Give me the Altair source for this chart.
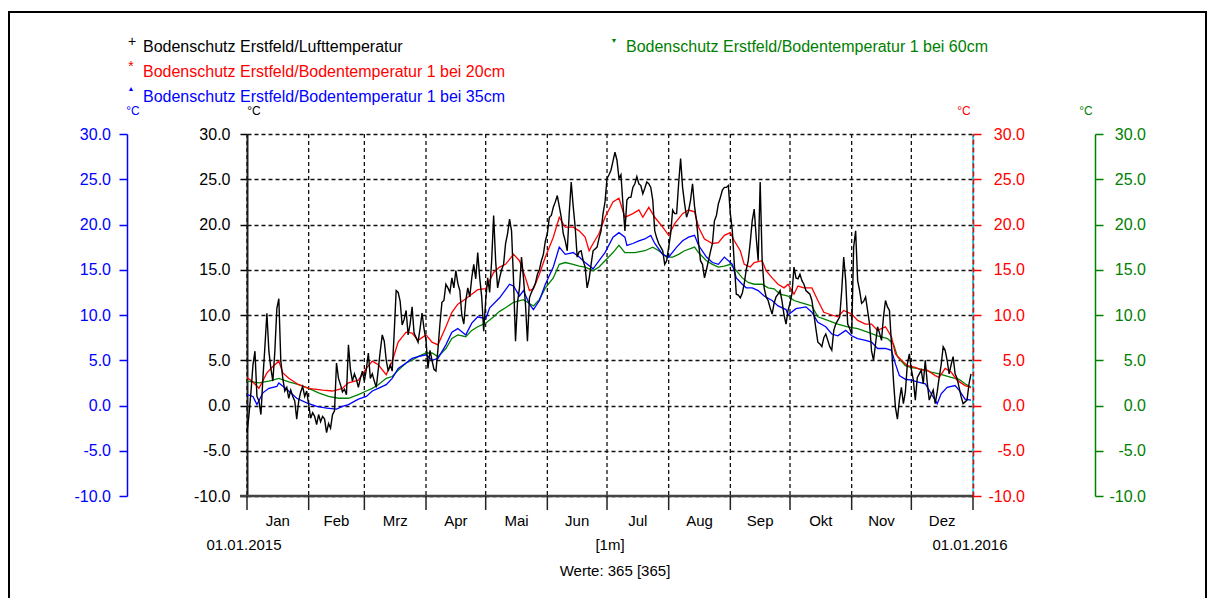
import altair as alt
import pandas as pd

# ---------------- data ----------------
air_temp = [
    -3.0, -1.0, 1.5, 4.5, 6.0, 1.0, 0.5, -1.0, 3.0, 6.5,
    10.2, 6.0, 4.1, 2.7, 6.0, 10.7, 11.8, 4.9, 3.0, 1.6,
    2.0, 0.8, 1.7, 1.0, 0.5, -1.5, 0.5, 1.5, 2.1, 1.0,
    1.6, 0.1, -1.4, -0.8, -1.2, -2.1, -1.0, -1.8, -1.2, -1.5,
    -3.0, -2.0, -2.5, -1.0, -0.6, 4.7, 3.0, 2.3, 1.5, 1.8,
    1.2, 6.7, 4.0, 2.7, 3.5, 2.9, 2.0, 3.0, 3.8, 2.7,
    4.0, 5.8, 3.0, 3.5, 2.7, 2.0, 4.0, 6.0, 7.8, 7.1,
    5.0, 3.8, 4.5, 3.8, 8.0, 12.7, 12.5, 11.5, 8.9, 9.5,
    10.5, 7.8, 9.0, 10.9, 8.0, 7.5, 7.0, 8.5, 10.2, 8.5,
    7.2, 4.1, 6.1, 5.0, 4.0, 3.8, 6.2, 9.0, 11.4, 11.6,
    13.4, 13.0, 12.5, 14.1, 13.0, 14.9, 13.5, 12.7, 10.0, 9.0,
    11.6, 13.0, 12.0, 14.1, 15.6, 14.0, 16.9, 14.1, 12.0, 8.2,
    11.6, 14.1, 12.5, 16.0, 21.0, 16.0, 13.0, 14.1, 15.0, 15.6,
    17.9, 19.0, 20.6, 19.3, 13.8, 7.1, 11.4, 13.0, 16.4, 14.1,
    11.2, 7.1, 11.9, 12.5, 13.0, 13.5, 14.5, 15.0, 16.0, 16.7,
    18.2, 19.0, 20.8, 21.0, 21.9, 22.5, 23.2, 22.0, 20.8, 19.0,
    18.2, 17.1, 21.2, 24.7, 22.0, 19.7, 16.4, 17.0, 17.1, 16.0,
    15.3, 13.0, 14.0, 15.6, 17.1, 17.3, 17.5, 18.5, 19.3, 21.2,
    22.5, 25.1, 25.5, 26.0, 27.0, 28.0, 27.1, 25.1, 25.5, 22.3,
    19.3, 22.7, 23.0, 23.0, 24.1, 24.5, 25.3, 24.5, 24.3, 23.4,
    24.0, 24.7, 24.5, 24.1, 22.7, 19.3, 18.5, 17.9, 17.5, 17.1,
    15.6, 16.0, 17.5, 19.0, 21.6, 21.2, 21.2, 24.5, 27.3, 24.1,
    22.3, 20.8, 21.5, 22.7, 24.5, 22.0, 20.4, 18.0, 16.0, 15.6,
    14.1, 15.0, 16.0, 17.0, 17.9, 20.4, 21.0, 22.3, 23.0, 23.8,
    24.1, 24.1, 24.3, 21.2, 19.3, 15.6, 12.3, 12.2, 11.9, 12.4,
    13.5, 15.0, 16.0, 18.0, 20.4, 21.7, 18.6, 16.0, 24.7, 16.0,
    13.0, 12.0, 11.6, 10.8, 10.1, 11.3, 12.0, 12.3, 12.7, 11.5,
    10.0, 9.0, 10.5, 11.3, 12.4, 15.3, 14.1, 14.0, 14.5, 13.8,
    13.4, 12.7, 12.5, 12.3, 11.6, 10.1, 8.5, 7.0, 6.8, 6.5,
    7.5, 7.9, 7.2, 6.5, 6.1, 8.3, 9.0, 9.4, 9.8, 12.7,
    16.4, 13.8, 9.0, 8.5, 7.9, 17.5, 19.3, 13.8, 12.7, 11.3,
    11.5, 12.0, 10.5, 9.0, 6.0, 5.0, 6.8, 8.7, 8.0, 7.2,
    9.8, 11.6, 10.9, 10.5, 6.8, 2.8, -0.2, -1.5, 0.6, 2.0,
    0.2, 1.5, 4.6, 5.7, 4.0, 2.8, 0.6, 3.1, 3.5, 3.9,
    2.4, 5.0, 2.5, 0.6, 1.2, 1.7, 0.2, 1.5, 3.1, 4.5,
    6.5, 6.1, 5.0, 3.5, 4.5, 5.4, 3.5, 3.0, 2.0, 1.0,
    0.2, 0.4, 0.6, 2.4, 3.5,
]

red_days = [0, 3, 6, 10, 13, 16, 18, 21, 26, 31, 38, 43, 48, 51, 56, 60, 63, 66, 70, 73,
            76, 80, 83, 86, 90, 93, 96, 100, 103, 106, 110, 113, 116, 120, 124, 127, 130, 134, 137, 140,
            142, 144, 147, 150, 154, 157, 160, 164, 167, 170, 172, 174, 177, 180, 184, 187, 190, 194, 197, 199,
            202, 205, 209, 212, 215, 219, 222, 225, 227, 230, 234, 237, 240, 243, 245, 248, 250, 253, 255, 259,
            261, 264, 267, 270, 272, 275, 277, 280, 284, 287, 290, 294, 297, 300, 304, 307, 311, 314, 317, 321,
            324, 326, 329, 332, 336, 339, 342, 346, 348, 351, 354, 357, 361, 364]
red_temp = [3.1, 2.6, 1.9, 3.6, 4.3, 4.9, 3.6, 3.0, 2.3, 1.9, 1.7, 1.6, 1.9, 2.5, 2.8, 4.1, 4.9, 4.5, 3.4, 4.9,
            7.0, 8.1, 8.0, 7.2, 7.8, 7.0, 6.7, 8.7, 10.3, 11.2, 11.8, 12.3, 12.8, 12.9, 14.7, 15.3, 15.6, 16.7, 16.0, 14.1,
            12.7, 12.9, 14.5, 16.4, 18.6, 20.8, 19.7, 19.7, 19.3, 18.6, 17.1, 17.9, 19.0, 20.8, 22.5, 22.9, 20.8, 21.2, 21.6, 20.8,
            21.9, 20.8, 19.7, 18.8, 20.1, 21.2, 21.6, 21.4, 19.7, 18.4, 17.9, 18.0, 18.8, 19.1, 18.2, 17.1, 15.6, 15.3, 15.8, 16.0,
            14.9, 14.1, 13.4, 13.0, 13.4, 12.3, 13.2, 13.0, 13.0, 11.6, 10.3, 10.0, 9.8, 10.5, 10.1, 9.4, 9.0, 9.0, 8.3, 8.7,
            7.6, 5.7, 5.0, 4.4, 4.2, 3.9, 3.9, 3.3, 3.1, 4.1, 3.7, 2.8, 2.2, 2.0]

blue_days = [0, 3, 5, 8, 11, 15, 16, 20, 25, 30, 35, 40, 45, 48, 51, 56, 60, 63, 66, 70,
             73, 76, 80, 83, 86, 90, 93, 96, 100, 103, 106, 110, 113, 116, 120, 122, 127, 132, 134, 137,
             139, 142, 144, 147, 150, 154, 157, 160, 164, 167, 170, 174, 177, 180, 184, 187, 190, 191, 194, 197,
             200, 203, 205, 209, 212, 216, 219, 222, 225, 227, 231, 234, 237, 240, 244, 246, 249, 251, 254, 257,
             260, 264, 267, 271, 272, 276, 281, 284, 287, 291, 294, 297, 301, 304, 307, 311, 314, 317, 321, 324,
             326, 328, 331, 334, 337, 341, 344, 347, 349, 352, 356, 358, 361, 364]
blue_temp = [1.2, 1.0, 0.1, 1.4, 1.9, 2.1, 2.5, 1.8, 0.8, 0.3, -0.1, -0.3, -0.4, -0.1, 0.1, 0.7, 1.0, 1.6, 1.9, 2.3,
             3.0, 4.1, 4.7, 5.2, 5.4, 5.6, 5.0, 5.2, 6.7, 8.1, 8.5, 7.8, 9.1, 9.8, 9.6, 10.8, 11.9, 13.4, 13.2, 12.1,
             12.7, 11.2, 10.6, 11.6, 13.4, 15.3, 17.5, 16.7, 16.9, 16.4, 15.8, 15.1, 16.0, 16.9, 18.6, 19.1, 18.6, 17.7, 17.9, 18.2,
             18.4, 18.8, 17.9, 16.7, 16.4, 17.5, 18.2, 18.6, 18.8, 17.7, 16.4, 15.8, 15.6, 16.4, 15.6, 14.1, 13.4, 13.0, 13.0, 12.7,
             12.1, 11.6, 11.0, 10.6, 10.0, 10.7, 10.9, 10.3, 9.2, 8.7, 7.9, 7.7, 8.3, 7.7, 7.4, 7.2, 7.0, 6.3, 6.3, 6.1,
             4.6, 3.3, 2.9, 2.8, 2.6, 2.4, 1.3, 0.2, 1.3, 2.0, 2.2, 1.7, 0.7, 0.6]

green_days = [0, 6, 11, 16, 21, 26, 31, 36, 41, 46, 51, 56, 60, 63, 66, 70, 73, 76, 80, 83,
              86, 90, 93, 96, 100, 103, 106, 110, 113, 116, 120, 124, 127, 130, 134, 139, 144, 147, 150, 154,
              157, 160, 164, 167, 170, 174, 177, 180, 184, 187, 190, 195, 200, 204, 207, 211, 214, 217, 220, 225,
              227, 231, 234, 237, 240, 243, 246, 249, 252, 255, 259, 262, 265, 268, 272, 275, 278, 281, 284, 287,
              292, 297, 302, 307, 312, 317, 322, 325, 327, 331, 334, 337, 341, 344, 348, 351, 354, 358, 361, 364]
green_temp = [2.7, 2.5, 2.7, 3.0, 2.6, 2.3, 1.9, 1.4, 1.0, 0.8, 0.8, 1.2, 1.6, 1.9, 2.3, 3.0, 3.2, 3.9, 4.7, 5.0,
              5.4, 5.8, 5.8, 5.4, 6.3, 7.4, 7.8, 7.6, 8.3, 8.7, 9.1, 9.8, 10.4, 10.8, 11.4, 11.7, 11.0, 11.7, 13.0, 14.1,
              15.6, 15.8, 15.6, 15.4, 15.3, 14.9, 15.3, 16.0, 16.9, 17.7, 16.9, 16.9, 17.1, 17.5, 17.1, 16.4, 16.4, 16.7, 17.1, 17.5,
              16.9, 16.0, 15.6, 15.3, 15.4, 15.6, 14.9, 14.1, 13.6, 13.4, 13.4, 13.0, 12.9, 12.3, 12.1, 11.6, 11.4, 11.2, 11.0, 9.8,
              9.4, 9.0, 8.7, 8.5, 8.1, 7.7, 7.4, 6.8, 5.4, 4.4, 4.2, 4.1, 3.9, 3.7, 3.5, 3.3, 3.1, 2.9, 2.4, 2.0]

month_names = ["Jan", "Feb", "Mrz", "Apr", "Mai", "Jun", "Jul", "Aug", "Sep", "Okt", "Nov", "Dez"]
month_starts = [0, 31, 59, 90, 120, 151, 181, 212, 243, 273, 304, 334, 365]
y_ticks = [-10, -5, 0, 5, 10, 15, 20, 25, 30]
date_labels = ["01.01.2015", "01.01.2016"]
date_label_days = [0, 365]

series_names = [
    "Bodenschutz Erstfeld/Lufttemperatur",
    "Bodenschutz Erstfeld/Bodentemperatur 1 bei 20cm",
    "Bodenschutz Erstfeld/Bodentemperatur 1 bei 35cm",
    "Bodenschutz Erstfeld/Bodentemperatur 1 bei 60cm",
]

# ---------------- styling ----------------
FONT = "Liberation Sans, Arial, sans-serif"
BLACK, RED, BLUE, GREEN = "#000000", "#ff0000", "#0000ff", "#008000"
W, H = 726, 362
DASH = [4, 3]
# one decimal, with a plain hyphen for negative numbers
LABEL_EXPR = "datum.value < 0 ? '-' + format(-datum.value, '.1f') : format(datum.value, '.1f')"

xs = alt.Scale(domain=[0, 365], nice=False, zero=False)
ys = alt.Scale(domain=[-10, 30], nice=False, zero=False)

air_df = pd.DataFrame({"day": list(range(len(air_temp))), "v": air_temp})
red_df = pd.DataFrame({"day": red_days, "v": red_temp})
blue_df = pd.DataFrame({"day": blue_days, "v": blue_temp})
green_df = pd.DataFrame({"day": green_days, "v": green_temp})
month_start_df = pd.DataFrame({"day": month_starts})
one = pd.DataFrame({"a": [0]})


def yaxis(color, orient, offset, **extra):
    kw = dict(orient=orient, offset=offset, values=y_ticks, labelExpr=LABEL_EXPR, title=None,
              domainColor=color, tickColor=color, labelColor=color, tickSize=8,
              tickWidth=1.5, domainWidth=1.5, labelFont=FONT, labelFontSize=16, grid=False)
    kw.update(extra)
    return alt.Axis(**kw)


X_NONE = dict(scale=xs, axis=None)

# vertical dashed grid lines and month ticks (through the x scale)
vgrid = alt.Chart(month_start_df).mark_rule(color="#111111", strokeWidth=1.3, strokeDash=DASH).encode(
    x=alt.X("day:Q", **X_NONE), y=alt.value(0), y2=alt.value(H)
)
xticks = alt.Chart(month_start_df).mark_rule(color="#222222", strokeWidth=1.5).encode(
    x=alt.X("day:Q", **X_NONE), y=alt.value(H), y2=alt.value(H + 14)
)
xdomain = alt.Chart(one).mark_rule(color="#444444", strokeWidth=2.5).encode(
    x=alt.value(-7), x2=alt.value(W), y=alt.value(H)
)

green_line = alt.Chart(green_df).mark_line(color=GREEN, strokeWidth=1.3).encode(
    x=alt.X("day:Q", **X_NONE),
    y=alt.Y("v:Q", scale=ys, axis=yaxis(GREEN, "right", 122, labelAlign="right", labelPadding=42.5)),
)
blue_line = alt.Chart(blue_df).mark_line(color=BLUE, strokeWidth=1.3).encode(
    x=alt.X("day:Q", **X_NONE),
    y=alt.Y("v:Q", scale=ys, axis=yaxis(BLUE, "left", 120, labelPadding=8.5)),
)
red_line = alt.Chart(red_df).mark_line(color=RED, strokeWidth=1.3).encode(
    x=alt.X("day:Q", **X_NONE),
    y=alt.Y("v:Q", scale=ys, axis=yaxis(RED, "right", 0, labelAlign="right", labelPadding=43.5,
                                       domainDash=[5, 3], domainWidth=1.6, zindex=1)),
)
air_line = alt.Chart(air_df).mark_line(color=BLACK, strokeWidth=1.4).encode(
    x=alt.X("day:Q", **X_NONE),
    y=alt.Y("v:Q", scale=ys, axis=yaxis(BLACK, "left", 0, tickSize=7, labelPadding=10, domainWidth=2,
                                       domainColor="#222222",
                                       grid=True, gridDash=DASH, gridColor="#111111",
                                       gridWidth=1.3, gridOpacity=1)),
)

cyan_rule = alt.Chart(one).mark_rule(color="#00e5ff", strokeWidth=1.6).encode(
    x=alt.XDatum(365, **X_NONE), y=alt.value(0), y2=alt.value(H)
)


def txt(s, x, y, color=BLACK, size=16, align="left"):
    return alt.Chart(one).mark_text(text=s, align=align, baseline="middle", font=FONT,
                                    fontSize=size, color=color).encode(x=alt.value(x), y=alt.value(y))


legend = [
    txt("+", -115, -92, BLACK, 14, "center"),
    txt("*", -116, -67, RED, 14, "center"),
    txt("\u25B2", -116, -45, BLUE, 7, "center"),
    txt("\u25BC", 367, -93, GREEN, 7, "center"),
    txt(series_names[0], -104, -87, BLACK),
    txt(series_names[1], -104, -62, RED),
    txt(series_names[2], -104, -37, BLUE),
    txt(series_names[3], 379, -87, GREEN),
]
units = [
    txt("\u00B0C", -114, -23, BLUE, 12, "center"),
    txt("\u00B0C", 7, -23, BLACK, 12, "center"),
    txt("\u00B0C", 717, -23, RED, 12, "center"),
    txt("\u00B0C", 839, -23, GREEN, 12, "center"),
]

month_df = pd.DataFrame({
    "m": month_names,
    "mid": [(a + b) / 2 for a, b in zip(month_starts[:-1], month_starts[1:])],
})
months = alt.Chart(month_df).mark_text(font=FONT, fontSize=15, color=BLACK, baseline="middle").encode(
    x=alt.X("mid:Q", **X_NONE), y=alt.value(387), text="m:N"
)
date_df = pd.DataFrame({"t": date_labels, "d": date_label_days})
dates = alt.Chart(date_df).mark_text(font=FONT, fontSize=15, color=BLACK, baseline="middle", dx=-3).encode(
    x=alt.X("d:Q", **X_NONE), y=alt.value(411), text="t:N"
)
bottom = [
    txt("[1m]", W / 2, 411, BLACK, 15, "center"),
    txt("Werte: 365 [365]", W / 2 + 5, 437, BLACK, 15, "center"),
]

frame = alt.Chart(one).mark_rect(filled=False, stroke=BLACK, strokeWidth=2).encode(
    x=alt.value(-238), x2=alt.value(959), y=alt.value(-122), y2=alt.value(520)
)

chart = alt.layer(
    frame, vgrid, cyan_rule, green_line, blue_line, red_line, air_line,
    xdomain, xticks, months, dates, *bottom, *legend, *units,
).resolve_scale(y="independent").properties(
    width=W, height=H,
    autosize=alt.AutoSizeParams(type="none"),
    padding={"left": 239, "top": 126, "right": 234, "bottom": 102},
).configure_view(stroke=None)

chart.save("out.html", embed_options={"renderer": "svg", "actions": False})
